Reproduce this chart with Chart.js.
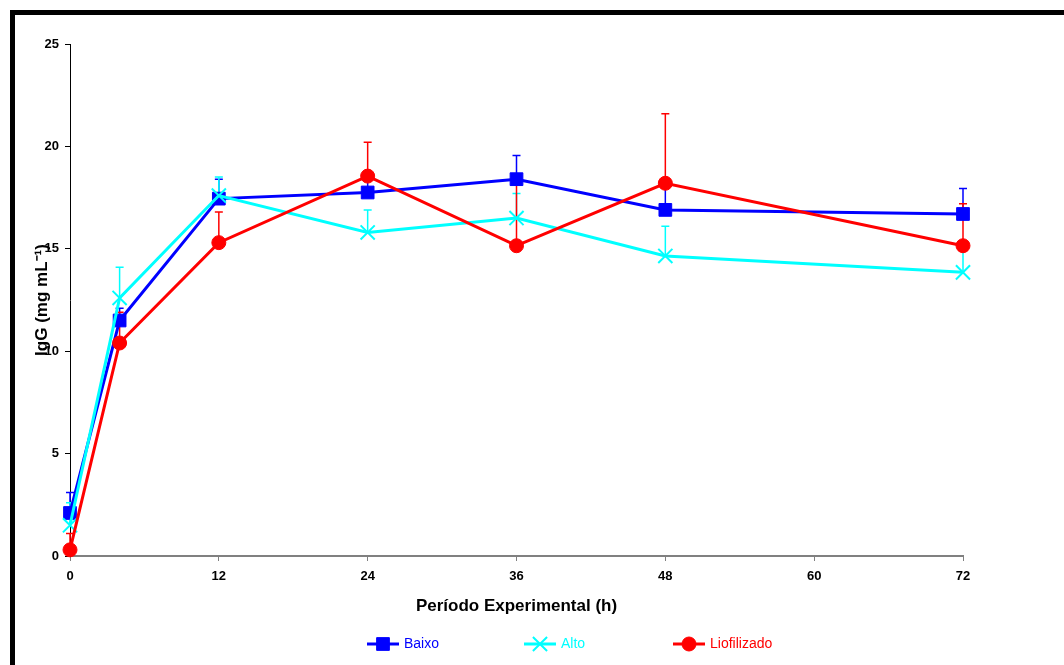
<!DOCTYPE html>
<html lang="pt">
<head>
<meta charset="utf-8">
<title>IgG - Período Experimental</title>
<script src="https://cdn.jsdelivr.net/npm/chart.js@4.4.0/dist/chart.umd.min.js"></script>
<style>
    body { margin: 0; background: #fff; }
    #caixa { width: 1064px; height: 665px; }
</style>
</head>
<body>
<div id="caixa"><canvas id="grafico" width="1064" height="665"></canvas></div>
<script>
// dados
const horas = [0, 4, 12, 24, 36, 48, 72]
const ticksX = [0, 12, 24, 36, 48, 60, 72]

const baixo = [2.1, 11.5, 17.45, 17.75, 18.4, 16.9, 16.7]
const baixoErro = [1.0, 0.6, 0.95, 0.9, 1.15, 1.2, 1.25]

const alto = [1.5, 12.6, 17.6, 15.8, 16.5, 14.65, 13.85]
const altoErro = [1.1, 1.5, 0.9, 1.1, 1.2, 1.45, 1.3]

const liofilizado = [0.3, 10.4, 15.3, 18.55, 15.15, 18.2, 15.15]
const liofilizadoErro = [0.8, 1.5, 1.5, 1.65, 3.1, 3.4, 2.05]

const fonte = "'Liberation Sans', Arial, sans-serif"

function pontos(valores) {
    return horas.map((h, i) => ({ x: h, y: valores[i] }))
}

// barras de erro (só para cima)
const barrasErro = {
    id: 'barrasErro',
    beforeDatasetsDraw(chart) {
        const ctx = chart.ctx
        const escalaY = chart.scales.y
        chart.data.datasets.forEach((ds, i) => {
            const meta = chart.getDatasetMeta(i)
            ctx.save()
            ctx.strokeStyle = ds.borderColor
            ctx.lineWidth = 1.5
            meta.data.forEach((p, j) => {
                const topo = escalaY.getPixelForValue(ds.data[j].y + ds.erros[j])
                ctx.beginPath()
                ctx.moveTo(p.x, p.y)
                ctx.lineTo(p.x, topo)
                ctx.moveTo(p.x - 4, topo)
                ctx.lineTo(p.x + 4, topo)
                ctx.stroke()
            })
            ctx.restore()
        })
    }
}

// moldura preta e legenda embaixo
const moldura = {
    id: 'moldura',
    afterDraw(chart) {
        const ctx = chart.ctx
        ctx.save()
        ctx.strokeStyle = '#000'
        ctx.lineWidth = 5
        ctx.strokeRect(12.5, 12.5, 1100, 700)

        const textoX = [404, 561, 710]
        const y = 644
        chart.data.datasets.forEach((ds, i) => {
            const x0 = textoX[i] - 37
            ctx.strokeStyle = ds.borderColor
            ctx.lineWidth = 3
            ctx.beginPath()
            ctx.moveTo(x0, y)
            ctx.lineTo(x0 + 32, y)
            ctx.stroke()
            // o drawPoint usa o fill/stroke que estiverem no ctx
            ctx.fillStyle = ds.borderColor
            ctx.strokeStyle = ds.borderColor
            ctx.lineWidth = ds.pointBorderWidth
            Chart.helpers.drawPoint(ctx, {
                pointStyle: ds.pointStyle,
                radius: ds.pointRadius,
                borderWidth: ds.pointBorderWidth,
                rotation: 0
            }, x0 + 16, y)
            ctx.font = '14px ' + fonte
            ctx.textBaseline = 'middle'
            ctx.fillText(ds.label, textoX[i], y)
        })
        ctx.restore()
    }
}

function serie(rotulo, valores, erros, cor, estilo, raio, borda, ordem) {
    return {
        label: rotulo,
        data: pontos(valores),
        erros: erros,
        borderColor: cor,
        backgroundColor: cor,
        pointBackgroundColor: cor,
        pointBorderColor: cor,
        pointStyle: estilo,
        pointRadius: raio,
        pointHoverRadius: raio,
        pointBorderWidth: borda,
        borderWidth: 3,
        tension: 0,
        clip: false,
        order: ordem
    }
}

const config = {
    type: 'line',
    data: {
        datasets: [
            serie('Baixo', baixo, baixoErro, '#0000ff', 'rect', 9, 1, 2),
            serie('Alto', alto, altoErro, '#00ffff', 'crossRot', 10, 2, 1),
            serie('Liofilizado', liofilizado, liofilizadoErro, '#ff0000', 'circle', 7, 1, 0)
        ]
    },
    options: {
        responsive: false,
        animation: false,
        layout: { padding: { top: 44, right: 101, left: 0, bottom: 0 } },
        plugins: {
            legend: { display: false },
            tooltip: { enabled: false }
        },
        scales: {
            x: {
                type: 'linear',
                min: 0,
                max: 72,
                afterFit(escala) { escala.height = 109 },
                afterBuildTicks(escala) { escala.ticks = ticksX.map(v => ({ value: v })) },
                border: { color: '#808080', width: 2 },
                grid: { drawOnChartArea: false, drawTicks: true, tickLength: 5, color: '#808080' },
                ticks: { color: '#000', padding: 8, font: { family: fonte, size: 13, weight: 'bold' } },
                title: {
                    display: true,
                    text: 'Período Experimental (h)',
                    color: '#000',
                    font: { family: fonte, size: 17, weight: 'bold' },
                    padding: { top: 0, bottom: 48 }
                }
            },
            y: {
                min: 0,
                max: 25,
                afterFit(escala) { escala.width = 70 },
                border: { color: '#000', width: 1 },
                grid: { drawOnChartArea: false, drawTicks: true, tickLength: 5, color: '#000' },
                ticks: { stepSize: 5, color: '#000', padding: 6, font: { family: fonte, size: 13, weight: 'bold' } },
                title: {
                    display: true,
                    text: 'IgG (mg mL⁻¹)',
                    color: '#000',
                    font: { family: fonte, size: 17, weight: 'bold' },
                    padding: { top: 32, bottom: 0 }
                }
            }
        }
    },
    plugins: [barrasErro, moldura]
}

const meuGrafico = new Chart(document.getElementById('grafico'), config)
</script>
</body>
</html>
